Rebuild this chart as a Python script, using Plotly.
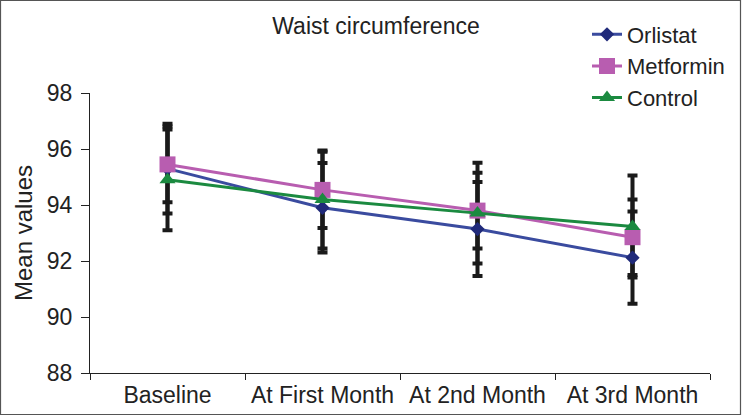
import plotly.graph_objects as go

categories = ["Baseline", "At First Month", "At 2nd Month", "At 3rd Month"]
series_names = ["Orlistat", "Metformin", "Control"]
orlistat = [95.3, 93.9, 93.14, 92.12]
orlistat_sd = [1.6, 1.6, 1.68, 1.65]
metformin = [95.45, 94.54, 93.8, 92.85]
metformin_sd = [1.35, 1.36, 1.35, 1.35]
control = [94.9, 94.2, 93.71, 93.23]
control_sd = [1.8, 1.75, 1.8, 1.82]
y_ticks = [88, 90, 92, 94, 96, 98]

values = [orlistat, metformin, control]
sds = [orlistat_sd, metformin_sd, control_sd]
line_colors = ["#3A4B9F", "#B85DB0", "#1B8A40"]
marker_colors = ["#202A7A", "#B85DB0", "#1B8A40"]
symbols = ["diamond", "square", "triangle-up"]
sizes = [11, 16, 14]

FONT = "Arial, Liberation Sans, sans-serif"
fig = go.Figure()

# error bars first, so markers sit on top
for v, s in zip(values, sds):
    fig.add_trace(go.Scatter(
        x=categories, y=v, mode="markers",
        marker=dict(size=1, opacity=0),
        error_y=dict(type="data", array=s, visible=True, color="#1a1a1a",
                     thickness=4, width=5),
        showlegend=False, hoverinfo="skip"))

for name, v, lc, mc, sym, sz in zip(series_names, values, line_colors, marker_colors, symbols, sizes):
    fig.add_trace(go.Scatter(
        x=categories, y=v, mode="lines+markers", name=name,
        line=dict(color=lc, width=3),
        marker=dict(symbol=sym, size=sz, color=mc, line=dict(width=0))))

L, R, T, B, W, H = 90, 33, 93, 42, 743, 415
pw, ph = W - L - R, H - T - B

fig.update_layout(
    width=W, height=H,
    margin=dict(l=L, r=R, t=T, b=B, autoexpand=False),
    paper_bgcolor="white", plot_bgcolor="white",
    font=dict(family=FONT, size=23, color="#222222"),
    title=dict(text="Waist circumference", x=376 / W, xanchor="center",
               y=1 - 26 / H, yanchor="middle", yref="container",
               font=dict(family=FONT, size=23, color="#222222")),
    showlegend=True,
    legend=dict(x=(587 - L) / pw, xanchor="left", y=(H - B - 13.5) / ph, yanchor="top",
                bgcolor="rgba(0,0,0,0)", borderwidth=0, tracegroupgap=0,
                font=dict(family=FONT, size=22, color="#222222")),
    xaxis=dict(type="category", range=[-0.5, 3.5], showline=True, linecolor="#222222",
               linewidth=1, ticks="outside", tickson="boundaries", ticklen=6,
               tickcolor="#222222", showgrid=False, zeroline=False, ticklabelstandoff=1,
               tickfont=dict(family=FONT, size=23, color="#222222")),
    yaxis=dict(range=[88, 98], tickvals=y_ticks, showline=True, linecolor="#222222",
               linewidth=1, ticks="outside", ticklen=8, tickcolor="#222222",
               showgrid=False, zeroline=False, ticklabelstandoff=4,
               title=dict(text="Mean values", standoff=7,
                          font=dict(family=FONT, size=24, color="#222222")),
               tickfont=dict(family=FONT, size=23, color="#222222")),
    shapes=[dict(type="rect", xref="paper", yref="paper",
                 x0=(0.5 - L) / pw, x1=(740.5 - L) / pw,
                 y0=(H - B - 414.5) / ph, y1=(H - B - 0.5) / ph,
                 line=dict(color="#555555", width=1.2), fillcolor="rgba(0,0,0,0)",
                 layer="below")],
)

fig.write_html("out.html", config={"displayModeBar": False},
               post_script="document.body.style.margin='0';")
